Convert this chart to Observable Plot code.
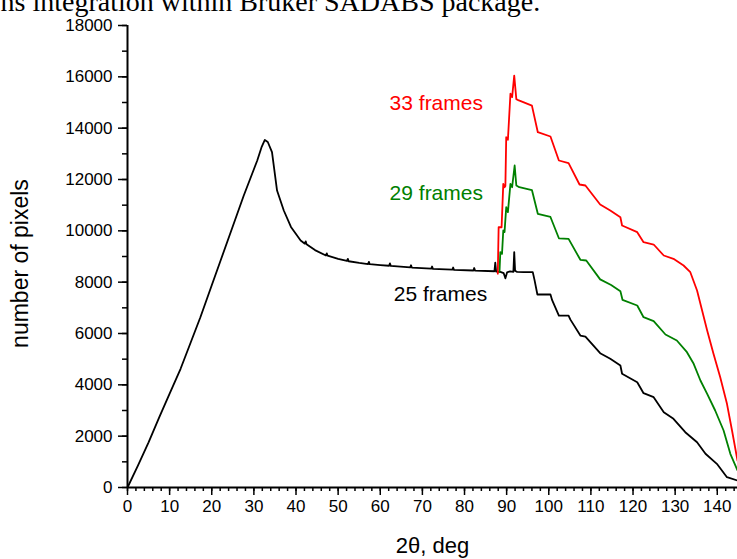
<!DOCTYPE html>
<html><head><meta charset="utf-8">
<script src="https://cdn.jsdelivr.net/npm/d3@7"></script>
<script src="https://cdn.jsdelivr.net/npm/@observablehq/plot@0.6"></script>
<style>body{margin:0;background:#fff;overflow:hidden}</style>
</head><body><div id="chart"></div>
<script>
// 25 frames (black)
const blackX = [0, 2.5, 5, 7.5, 10, 12.6, 15, 17.3, 20, 22.1, 25, 27.6, 30, 30.8, 31.8, 32.6, 33.3, 34.3, 35.5, 37.1, 38.8, 41.1,
  42.1, 42.3, 42.5, 44.5, 47.1, 47.3, 47.5, 50, 52.1, 52.3, 52.5, 55, 57.1, 57.3, 57.5, 60, 62.1, 62.3, 62.5,
  67.1, 67.3, 67.5, 72.1, 72.3, 72.5, 77.1, 77.3, 77.5, 82.1, 82.3, 82.5, 87.1, 87.3, 87.5, 88.5, 89.3, 89.7, 90.1,
  90.8, 91.6, 91.8, 92.0, 92.5, 94, 96.2, 96.6, 97.3, 100.4, 100.8, 102.4, 104.7, 105.1, 107.5, 108.7, 112.2, 114.6,
  117.0, 117.4, 121.0, 122.5, 124.9, 127.3, 129.6, 132.4, 135.2, 137.2, 139.9, 142.3, 144.8];
const blackY = [0, 860, 1760, 2720, 3660, 4625, 5650, 6635, 7880, 8844, 10180, 11376, 12400, 12740, 13250, 13540, 13460, 13063, 11571, 10792, 10150, 9623,
  9500, 9590, 9480, 9250, 9040, 9120, 9030, 8910, 8825, 8910, 8815, 8750, 8705, 8790, 8700, 8665, 8640, 8730, 8635,
  8575, 8660, 8570, 8525, 8610, 8520, 8485, 8570, 8480, 8455, 8550, 8450, 8425, 8760, 8410, 8400, 8350, 8150, 8380,
  8420, 8400, 9170, 8450, 8400, 8390, 8390, 8100, 7520, 7520, 7300, 6700, 6700, 6550, 5920, 5880, 5232, 5014,
  4753, 4430, 4103, 3674, 3518, 2934, 2676, 2154, 1765, 1313, 923, 401, 273];

// 29 frames (green)
const greenX = [88.3, 88.5, 88.9, 89.2, 89.5, 89.9, 90.3, 90.9, 91.3, 91.9, 92.3, 93, 96.0, 97.4, 100.4, 102.4, 104.7, 107.5, 108.9,
  112.2, 114.8, 117.0, 117.5, 121.0, 122.5, 124.9, 127.7, 130.4, 132.8, 134.4, 136.0, 137.6, 139.5, 141.5, 143.1, 144.8];
const greenY = [8400, 9170, 9100, 10013, 9950, 10921, 10726, 11832, 11700, 12545, 11766, 11700, 11590, 10663, 10540, 9710, 9689, 8871, 8844,
  8110, 7890, 7650, 7313, 7091, 6635, 6479, 5961, 5727, 5271, 4819, 4169, 3651, 3000, 2221, 1313, 662];

// 33 frames (red)
const redX = [87.9, 88.1, 88.8, 89.2, 89.5, 89.7, 89.9, 90.3, 90.9, 91.3, 91.8, 92.3, 92.9, 96.0, 97.4, 100.4, 102.4, 104.7, 107.3,
  108.7, 112.2, 114.6, 117.0, 117.4, 121.0, 122.5, 124.9, 127.3, 129.6, 132.0, 133.6, 135.2, 136.4, 137.6, 139.1, 140.7, 142.3, 143.5, 144.8];
const redY = [8330, 10140, 10140, 11830, 11700, 11750, 13650, 13550, 15340, 15210, 16050, 15130, 15080, 14880, 13843, 13675, 12740, 12635, 11805,
  11766, 11026, 10792, 10531, 10208, 9947, 9557, 9467, 9039, 8910, 8649, 8388, 7675, 6896, 6117, 5209, 4297, 3261, 2221, 1052];

const seriesNames = ["25 frames", "29 frames", "33 frames"];
const seriesColors = ["black", "#008000", "#ff0000"];
const labelX = [74.3, 73.3, 73.3];
const labelY = [7547, 11466, 14961];

const xMajor = d3.range(0, 141, 10);
const xMinor = d3.range(0, 146, 2);
const yMajor = d3.range(0, 18001, 2000);
const yMinor = d3.range(0, 18001, 1000);
const xTitle = "2θ, deg";
const yTitle = "number of pixels";
const topText = "ns integration within Bruker SADABS package.";

const rows = (xs, ys) => xs.map((x, i) => ({x, y: ys[i]}));
const black = rows(blackX, blackY);
const green = rows(greenX, greenY);
const red = rows(redX, redY);
const labels = seriesNames.map((name, i) => ({name, x: labelX[i], y: labelY[i], color: seriesColors[i]}));

const chart = Plot.plot({
  width: 737, height: 559,
  marginLeft: 127, marginRight: 0, marginTop: 25, marginBottom: 72,
  x: {domain: [0, 144.8]},
  y: {domain: [0, 18000]},
  style: {fontFamily: "'Liberation Sans', Arial, sans-serif", fontSize: "17px", color: "black", background: "white", overflow: "visible"},
  marks: [
    Plot.axisX({ticks: xMinor, tickSize: 4, tickFormat: () => "", label: null, strokeWidth: 1.5}),
    Plot.axisX({ticks: xMajor, tickSize: 8, tickPadding: 4, label: null, fontSize: 17, strokeWidth: 1.5}),
    Plot.axisY({ticks: yMinor, tickSize: 5, tickFormat: () => "", label: null, strokeWidth: 1.5}),
    Plot.axisY({ticks: yMajor, tickSize: 9, tickPadding: 6, tickFormat: d => String(d), label: null, fontSize: 17, strokeWidth: 1.5}),
    Plot.ruleY([0], {strokeWidth: 2}),
    Plot.ruleX([0], {strokeWidth: 2}),
    Plot.line(black, {x: "x", y: "y", stroke: seriesColors[0], strokeWidth: 1.8}),
    Plot.line(green, {x: "x", y: "y", stroke: seriesColors[1], strokeWidth: 1.8}),
    Plot.line(red, {x: "x", y: "y", stroke: seriesColors[2], strokeWidth: 1.8}),
    Plot.text(labels, {x: "x", y: "y", text: "name", fill: "color", fontSize: 21}),
    Plot.text([xTitle], {text: d => d, frameAnchor: "bottom", lineAnchor: "middle", dy: 58, fontSize: 22}),
    Plot.text([yTitle], {text: d => d, frameAnchor: "left", textAnchor: "middle", lineAnchor: "middle", dx: -107, dy: 7, rotate: -90, fontSize: 23}),
    Plot.text([topText], {text: d => d, frameAnchor: "top-left", dx: -127, dy: -15, lineAnchor: "bottom", textAnchor: "start", fontFamily: "'Liberation Serif', 'Times New Roman', serif", fontSize: 28})
  ]
});
document.getElementById("chart").appendChild(chart);
</script>
</body></html>
